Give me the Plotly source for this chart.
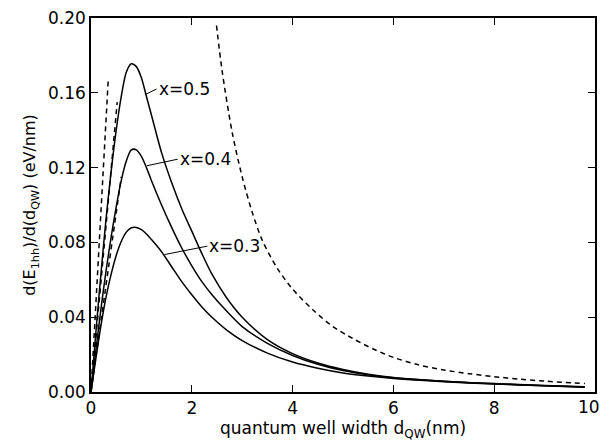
import plotly.graph_objects as go

# --- data ---
d_x05 = [0, 0.1, 0.2, 0.3, 0.4, 0.5, 0.6, 0.7, 0.8, 0.9, 1.0, 1.1, 1.2, 1.4, 1.6, 1.8, 2.0, 2.2, 2.4, 2.7, 3.0, 3.5, 4.0, 4.5, 5.0, 5.5, 6.0, 7.0, 8.0, 9.0, 9.8]
v_x05 = [0, 0.033, 0.064, 0.093, 0.118, 0.140, 0.158, 0.171, 0.1755, 0.174, 0.168, 0.158, 0.148, 0.128, 0.112, 0.098, 0.086, 0.074, 0.063, 0.050, 0.040, 0.028, 0.0205, 0.0155, 0.012, 0.0095, 0.0078, 0.0058, 0.0045, 0.0035, 0.0028]

d_x04 = [0, 0.1, 0.2, 0.3, 0.4, 0.5, 0.6, 0.7, 0.8, 0.9, 1.0, 1.1, 1.2, 1.4, 1.6, 1.8, 2.0, 2.2, 2.4, 2.7, 3.0, 3.5, 4.0, 4.5, 5.0, 5.5, 6.0, 7.0, 8.0, 9.0, 9.8]
v_x04 = [0, 0.023, 0.045, 0.065, 0.083, 0.099, 0.113, 0.1235, 0.1295, 0.1295, 0.126, 0.120, 0.113, 0.100, 0.088, 0.077, 0.0675, 0.059, 0.052, 0.043, 0.035, 0.026, 0.0195, 0.0148, 0.0115, 0.0092, 0.0076, 0.0057, 0.0044, 0.0034, 0.0027]

d_x03 = [0, 0.1, 0.2, 0.3, 0.4, 0.5, 0.6, 0.7, 0.8, 0.9, 1.0, 1.1, 1.2, 1.4, 1.6, 1.8, 2.0, 2.2, 2.4, 2.7, 3.0, 3.5, 4.0, 4.5, 5.0, 5.5, 6.0, 7.0, 8.0, 9.0, 9.8]
v_x03 = [0, 0.0185, 0.036, 0.051, 0.063, 0.073, 0.0805, 0.0855, 0.0878, 0.088, 0.0868, 0.0845, 0.0815, 0.075, 0.067, 0.059, 0.052, 0.0455, 0.040, 0.033, 0.0275, 0.0208, 0.016, 0.0127, 0.0102, 0.0085, 0.0072, 0.0055, 0.0043, 0.0033, 0.0026]

# small-width asymptotes (dashed)
d_lin1 = [0, 0.34]
v_lin1 = [0, 0.166]
d_lin2 = [0, 0.52]
v_lin2 = [0, 0.155]
d_lin3 = [0, 0.60]
v_lin3 = [0, 0.115]

# large-width asymptote (dashed)
d_big = [2.49, 2.6, 2.8, 3.0, 3.2, 3.4, 3.7, 4.0, 4.4, 4.8, 5.2, 5.6, 6.0, 6.5, 7.0, 7.5, 8.0, 8.5, 9.0, 9.8]
v_big = [0.196, 0.172, 0.139, 0.115, 0.096, 0.081, 0.066, 0.055, 0.044, 0.035, 0.0285, 0.023, 0.0185, 0.0145, 0.0118, 0.0098, 0.0082, 0.0069, 0.0058, 0.0045]

# labels with leader lines
label_text = ["x=0.5", "x=0.4", "x=0.3"]
leader_d0 = [1.07, 1.11, 1.46]
leader_v0 = [0.159, 0.121, 0.0735]
leader_d1 = [1.30, 1.72, 2.31]
leader_v1 = [0.162, 0.1245, 0.078]

x_ticks = [0, 2, 4, 6, 8, 10]
x_ticktext = ["0", "2", "4", "6", "8", ""]
x_edge_label = "10"
y_ticks = [0.00, 0.04, 0.08, 0.12, 0.16, 0.20]

FONT = "DejaVu Sans"
fig = go.Figure()

solid = dict(color="black", width=1.5)
dashed = dict(color="black", width=1.5, dash="5px,4px")

for dx, vy in [(d_x05, v_x05), (d_x04, v_x04), (d_x03, v_x03)]:
    fig.add_trace(go.Scatter(x=dx, y=vy, mode="lines", line=dict(shape="spline", smoothing=0.8, **solid),
                             showlegend=False, hoverinfo="skip"))
for dx, vy in [(d_lin1, v_lin1), (d_lin2, v_lin2), (d_lin3, v_lin3)]:
    fig.add_trace(go.Scatter(x=dx, y=vy, mode="lines", line=dashed, showlegend=False, hoverinfo="skip"))
fig.add_trace(go.Scatter(x=d_big, y=v_big, mode="lines", line=dict(shape="spline", smoothing=0.8, **dashed),
                         showlegend=False, hoverinfo="skip"))

for t, a0, b0, a1, b1 in zip(label_text, leader_d0, leader_v0, leader_d1, leader_v1):
    fig.add_trace(go.Scatter(x=[a0, a1], y=[b0, b1], mode="lines", line=dict(color="black", width=1),
                             showlegend=False, hoverinfo="skip"))
    fig.add_annotation(x=a1, y=b1, text=t, showarrow=False, xanchor="left", yanchor="middle",
                       xshift=0, font=dict(family=FONT, size=17, color="black"))

# last x tick label sits at the very edge of the page
fig.add_annotation(x=x_ticks[-1], y=0, xref="x", yref="paper", text=x_edge_label, showarrow=False,
                   xanchor="right", yanchor="top", xshift=7, yshift=-3,
                   font=dict(family=FONT, size=17, color="black"))

axis_common = dict(showgrid=False, zeroline=False, showline=True, linecolor="black", linewidth=1.5,
                   mirror="ticks", ticks="inside", ticklen=7, tickwidth=1.2, tickcolor="black",
                   tickfont=dict(family=FONT, size=17, color="black"))

fig.update_xaxes(range=[0, 10], tickvals=x_ticks, ticktext=x_ticktext,
                 title=dict(text="quantum well width d<sub>QW</sub>(nm)", font=dict(family=FONT, size=17, color="black"), standoff=4),
                 **axis_common)
fig.update_yaxes(range=[0, 0.20], tickvals=y_ticks, ticktext=[f"{v:.2f}" for v in y_ticks],
                 title=dict(text="d(E<sub>1hh</sub>)/d(d<sub>QW</sub>) (eV/nm)", font=dict(family=FONT, size=16, color="black"), standoff=8),
                 **axis_common)

fig.update_layout(width=605, height=445, margin=dict(l=91, r=8, t=16, b=53),
                  paper_bgcolor="white", plot_bgcolor="white", showlegend=False)

fig.write_html("out.html")
